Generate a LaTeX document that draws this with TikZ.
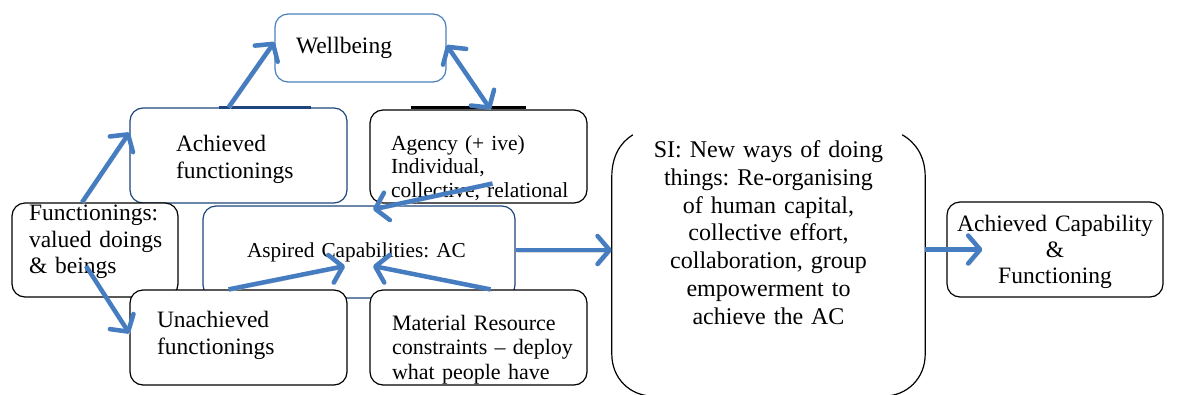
\documentclass[tikz,border=0pt]{standalone}
\usepackage{fontspec}
\setmainfont{Liberation Serif}
\usetikzlibrary{arrows.meta}

\definecolor{arrowblue}{RGB}{70,125,192}
\definecolor{navyframe}{RGB}{30,70,125}
\definecolor{lightframe}{RGB}{75,128,190}

\frenchspacing
\hyphenpenalty=10000
\exhyphenpenalty=10000

\tikzset{
  box/.style={draw, fill=white, rounded corners=13pt, line width=1.2pt,
    inner sep=0pt, align=left},
  lifttext/.style={text height=0pt, text depth=#1},
  flow/.style={->, arrowblue, line width=4.5pt,
    preaction={draw=black!15, transform canvas={shift={(1.5pt,-2pt)}}}},
}

\begin{document}
\begin{tikzpicture}[x=1pt, y=-1pt, >={Straight Barb[length=12pt,width=28pt,round]}]
\useasboundingbox (0,0) rectangle (1177,394);

% Aspired capabilities sits behind the boxes around it
\node[box, draw=navyframe, minimum width=312, minimum height=92, text width=224,
  font=\fontsize{21.3}{24}\selectfont] (aspired) at (359,252) {Aspired Capabilities: AC};

% Top row
\node[box, draw=lightframe, minimum width=171, minimum height=68, text width=129,
  font=\fontsize{23.5}{27}\selectfont] (wellbeing) at (360.5,48) {Wellbeing};
\node[box, draw=navyframe, minimum width=217, minimum height=95, text width=125,
  lifttext=8pt, font=\fontsize{23.5}{27}\selectfont] (achieved) at (238.5,155.5)
  {Achieved\\ functionings};
\node[box, minimum width=217, minimum height=93, text width=175,
  lifttext=13pt, font=\fontsize{21.5}{23.5}\selectfont] (agency) at (478.5,156.5)
  {Agency~(+~ive)\\ Individual,\\ collective,~relational};
\draw[navyframe, line width=2.2pt] ([xshift=-20pt]achieved.north) -- ([xshift=72pt]achieved.north);
\draw[line width=2.5pt] ([shift={(-68,-2)}]agency.north) -- ([shift={(47,-2)}]agency.north);

% Left and bottom row
\node[box, minimum width=166, minimum height=94, text width=132,
  lifttext=59pt, font=\fontsize{23.5}{26.5}\selectfont] (func) at (95,250)
  {Functionings:\\ valued~doings\\ \&~beings};
\node[box, minimum width=217, minimum height=95, text width=163,
  lifttext=20pt, font=\fontsize{23.5}{27}\selectfont] (unachieved) at (238.5,337.5)
  {Unachieved\\ functionings};
\node[box, minimum width=217, minimum height=95, text width=173,
  lifttext=15pt, font=\fontsize{22}{24.5}\selectfont] (material) at (478.5,337.5)
  {Material~Resource\\ constraints~--~deploy\\ what~people~have};

% Social innovation (open at the top) and outcome
\node[minimum width=313, minimum height=261, inner sep=0pt, text width=290, align=center,
  lifttext=216pt, font=\fontsize{24}{27.8}\selectfont] (si) at (768.5,265.5)
  {SI: New ways of doing\\ things: Re-organising\\ of human capital,\\ collective effort,\\
   collaboration, group\\ empowerment to\\ achieve the AC};
\draw[line width=1.2pt] ([shift={(21,0)}]si.north west)
  .. controls ([shift={(8,8)}]si.north west) and ([shift={(0,22)}]si.north west)
  .. ([shift={(0,42)}]si.north west) -- ([shift={(0,-42)}]si.south west)
  .. controls ([shift={(0,-18)}]si.south west) and ([shift={(18,0)}]si.south west)
  .. ([shift={(42,0)}]si.south west);
\draw[line width=1.2pt] ([shift={(-23,0)}]si.north east)
  .. controls ([shift={(-9,8)}]si.north east) and ([shift={(0,22)}]si.north east)
  .. ([shift={(0,42)}]si.north east) -- ([shift={(0,-42)}]si.south east)
  .. controls ([shift={(0,-18)}]si.south east) and ([shift={(-18,0)}]si.south east)
  .. ([shift={(-42,0)}]si.south east);

\node[box, minimum width=216, minimum height=95, text width=200, align=center,
  lifttext=36pt, font=\fontsize{23.5}{26}\selectfont] (achcap) at (1055,249.5)
  {Achieved~Capability\\ \&\\ Functioning};

% Arrows
\draw[flow] ([xshift=-10pt]achieved.north) -- ([yshift=6pt]wellbeing.west);
\draw[flow, <->] ([yshift=3pt]wellbeing.east) -- ([xshift=12pt]agency.north);
\draw[flow] ([xshift=-13pt]func.north) -- ([yshift=23pt]achieved.west);
\draw[flow] ([shift={(-9,16)}]func.center) -- ([yshift=4pt]unachieved.west);
\draw[flow] ([xshift=-10pt]unachieved.north) -- ([shift={(-14,14)}]aspired.center);
\draw[flow] ([xshift=12pt]material.north) -- ([shift={(14,14)}]aspired.center);
\draw[flow] ([shift={(14,27)}]agency.center) -- ([shift={(14,4)}]aspired.north);
\draw[flow] ([yshift=2pt]aspired.east) -- ([yshift=2pt]aspired.east -| si.west);
\draw[flow] (si.east |- achcap.west) -- ([xshift=36pt]achcap.west);

\end{tikzpicture}
\end{document}
